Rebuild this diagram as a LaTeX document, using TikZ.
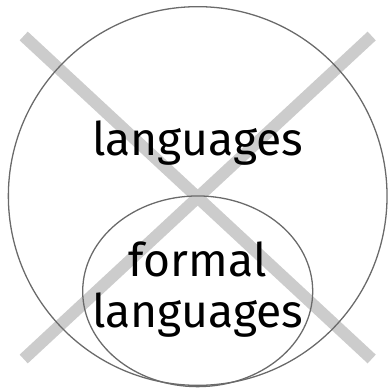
\documentclass[tikz,border=0pt]{standalone}
\usepackage{fontspec}
\setmainfont{Fira Sans}
\usepackage{tikz}
\usetikzlibrary{shapes.geometric}
\definecolor{ringGray}{HTML}{6A6A6A}
\definecolor{crossGray}{HTML}{CCCCCC}

\begin{document}
\begin{tikzpicture}[
  x=0.03cm, y=-0.03cm,
  set/.style={draw=ringGray, line width=1.1pt, inner sep=0pt, outer sep=0pt},
  word/.style={font=\fontsize{39.5}{43.5}\selectfont, align=center, inner sep=0pt},
  cross/.style={draw=crossGray, line width=10.2pt}
]
\useasboundingbox (0,0) rectangle (388,388);
% the big cross
\coordinate (tl) at (23.7,36);
\coordinate (tr) at (371.7,36);
\coordinate (bl) at (23.7,359);
\coordinate (br) at (371.7,359);
\draw[cross] (tl) -- (br);
\draw[cross] (tr) -- (bl);
% sets
\node[set, circle, minimum size=11.36cm] (all) at (197.7,196) {};
\node[set, ellipse, minimum width=6.9cm, minimum height=5.72cm] (formal) at (197.7,291.3) {};
\node[word, anchor=base] (alllabel) at (197.7,155) {languages};
\node[word, anchor=base] (formallabel) at (197.7,327) {formal\\languages};
\end{tikzpicture}
\end{document}
